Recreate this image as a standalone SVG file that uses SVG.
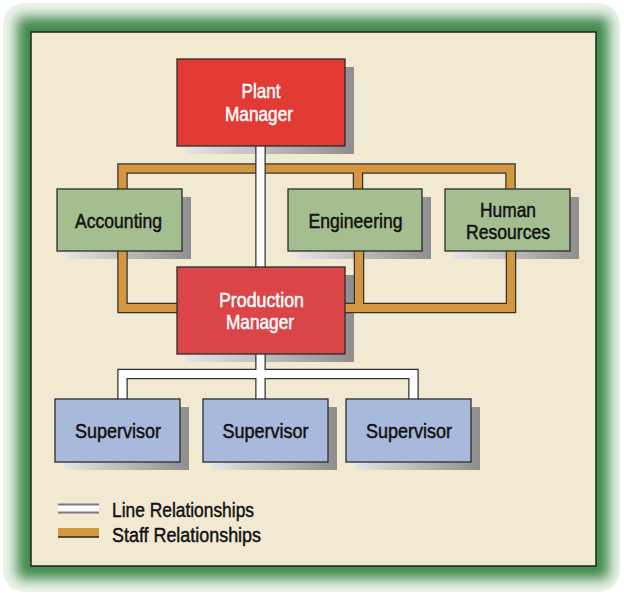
<svg xmlns="http://www.w3.org/2000/svg" width="624" height="595" viewBox="0 0 624 595">
  <defs>
    <clipPath id="frameClip">
      <rect x="3" y="3" width="617" height="589" rx="22" ry="22"/>
    </clipPath>
    <filter id="glow" x="-10%" y="-10%" width="120%" height="120%">
      <feGaussianBlur stdDeviation="6.5"/>
    </filter>
    <linearGradient id="shadowGrad" x1="0" y1="0" x2="1" y2="0">
      <stop offset="0" stop-color="#e4e4e4"/>
      <stop offset="1" stop-color="#8e8e8e"/>
    </linearGradient>
  </defs>
  <style>
    .shadow { fill: url(#shadowGrad); }
    .box { stroke: #2b2b2b; stroke-width: 1.3; }
    .red1 { fill: #E23A35; }
    .red2 { fill: #DC4548; }
    .green { fill: #A4BE90; }
    .blue { fill: #A8B9DC; }
    .lbl { font-family: "Liberation Sans", Arial, sans-serif; font-size: 21px; text-anchor: middle; stroke-width: 0.5; }
    .white-t { fill: #ffffff; stroke: #ffffff; }
    .dark-t { fill: #111111; stroke: #111111; }
    .edge { fill: none; stroke: #333333; stroke-width: 10.5; stroke-linecap: butt; stroke-linejoin: miter; }
    .staff { fill: none; stroke: #D4973F; stroke-width: 8; stroke-linecap: butt; stroke-linejoin: miter; }
    .line { fill: none; stroke: #ffffff; stroke-width: 8; stroke-linecap: butt; stroke-linejoin: miter; }
    .legend { font-family: "Liberation Sans", Arial, sans-serif; font-size: 20px; fill: #111111; stroke: #111111; stroke-width: 0.45; }
  </style>

  <!-- frame -->
  <g id="frame">
    <rect x="0" y="0" width="624" height="595" fill="#ffffff"/>
    <g clip-path="url(#frameClip)">
      <rect x="3" y="3" width="617" height="589" fill="#eef3ec"/>
      <rect x="17" y="17" width="592" height="562" fill="#3d8a4b" filter="url(#glow)"/>
    </g>
    <rect x="31" y="32" width="565" height="534" fill="#F2E9D3" stroke="#222222" stroke-width="1.5"/>
  </g>

  <!-- shadows -->
  <g id="shadows">
    <rect class="shadow" x="186" y="67" width="168" height="87"/>
    <rect class="shadow" x="66" y="197" width="125" height="62"/>
    <rect class="shadow" x="297" y="197" width="134" height="62"/>
    <rect class="shadow" x="454" y="197" width="125" height="62"/>
    <rect class="shadow" x="186" y="275" width="168" height="87"/>
    <rect class="shadow" x="64" y="407" width="125" height="63"/>
    <rect class="shadow" x="212" y="407" width="125" height="63"/>
    <rect class="shadow" x="355" y="407" width="125" height="63"/>
  </g>

  <!-- connectors -->
  <g id="connectors">
    <g id="staff-relationships">
      <path class="edge" d="M122.5,189 V168.5 H510.5 V189 M358,168.5 V189 M122.5,251 V308 H177 M345,308 H511 V251 M359,251 V308"/>
      <path class="staff" d="M122.5,189 V168.5 H510.5 V189 M358,168.5 V189 M122.5,251 V308 H177 M345,308 H511 V251 M359,251 V308"/>
    </g>
    <g id="line-relationships">
      <path class="edge" d="M260.5,146 V267 M260.5,354 V399 M122.5,399 V374 H413.5 V399"/>
      <path class="line" d="M260.5,146 V267 M260.5,354 V399 M122.5,399 V374 H413.5 V399"/>
    </g>
  </g>

  <!-- nodes -->
  <g id="plant-manager">
    <rect class="box red1" x="177" y="59" width="168" height="87"/>
    <text class="lbl white-t" x="261" y="98" textLength="39" lengthAdjust="spacingAndGlyphs">Plant</text>
    <text class="lbl white-t" x="259" y="121" textLength="68" lengthAdjust="spacingAndGlyphs">Manager</text>
  </g>
  <g id="accounting">
    <rect class="box green" x="57" y="189" width="125" height="62"/>
    <text class="lbl dark-t" x="118.5" y="228" textLength="87" lengthAdjust="spacingAndGlyphs">Accounting</text>
  </g>
  <g id="engineering">
    <rect class="box green" x="288" y="189" width="134" height="62"/>
    <text class="lbl dark-t" x="355.5" y="228" textLength="94" lengthAdjust="spacingAndGlyphs">Engineering</text>
  </g>
  <g id="human-resources">
    <rect class="box green" x="445" y="189" width="125" height="62"/>
    <text class="lbl dark-t" x="508" y="217" textLength="56" lengthAdjust="spacingAndGlyphs">Human</text>
    <text class="lbl dark-t" x="508" y="239" textLength="84" lengthAdjust="spacingAndGlyphs">Resources</text>
  </g>
  <g id="production-manager">
    <rect class="box red2" x="177" y="267" width="168" height="87"/>
    <text class="lbl white-t" x="261.5" y="307" textLength="85" lengthAdjust="spacingAndGlyphs">Production</text>
    <text class="lbl white-t" x="260" y="329" textLength="68" lengthAdjust="spacingAndGlyphs">Manager</text>
  </g>
  <g id="supervisor-1">
    <rect class="box blue" x="55" y="399" width="125" height="63"/>
    <text class="lbl dark-t" x="118" y="438" textLength="86" lengthAdjust="spacingAndGlyphs">Supervisor</text>
  </g>
  <g id="supervisor-2">
    <rect class="box blue" x="203" y="399" width="125" height="63"/>
    <text class="lbl dark-t" x="265.5" y="438" textLength="86" lengthAdjust="spacingAndGlyphs">Supervisor</text>
  </g>
  <g id="supervisor-3">
    <rect class="box blue" x="346" y="399" width="125" height="63"/>
    <text class="lbl dark-t" x="409" y="438" textLength="86" lengthAdjust="spacingAndGlyphs">Supervisor</text>
  </g>

  <!-- legend -->
  <g id="legend">
    <rect x="58" y="504" width="41" height="9" fill="#ffffff"/>
    <line x1="58" y1="504.5" x2="99" y2="504.5" stroke="#7a7a7a" stroke-width="2"/>
    <line x1="58" y1="512.5" x2="99" y2="512.5" stroke="#7a7a7a" stroke-width="2"/>
    <rect x="58" y="528" width="41" height="9" fill="#D4973F"/>
    <line x1="58" y1="537" x2="99" y2="537" stroke="#222222" stroke-width="1.5"/>
    <text class="legend" x="112" y="517" textLength="142" lengthAdjust="spacingAndGlyphs">Line Relationships</text>
    <text class="legend" x="112" y="542" textLength="149" lengthAdjust="spacingAndGlyphs">Staff Relationships</text>
  </g>
</svg>
